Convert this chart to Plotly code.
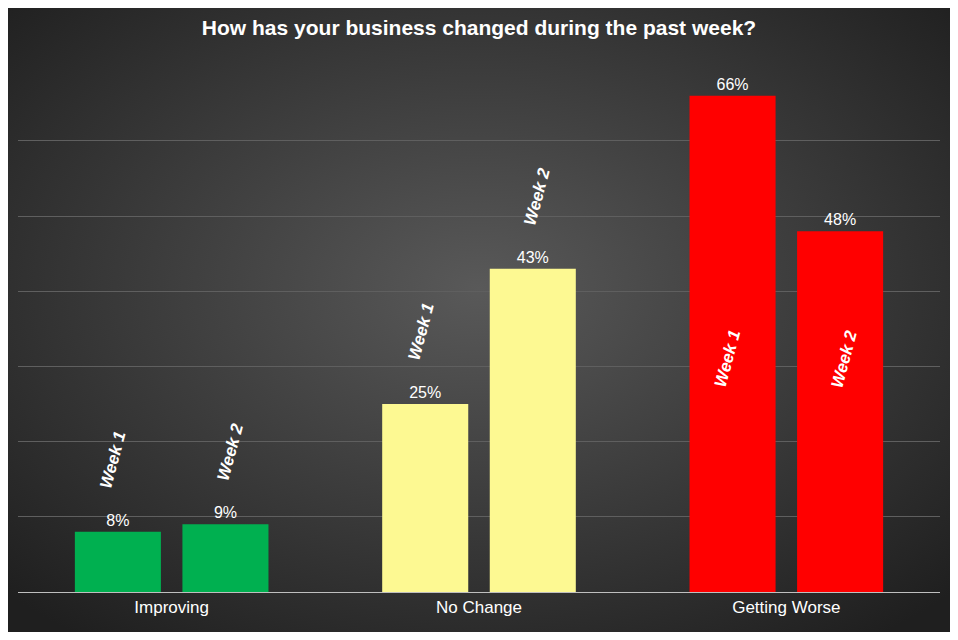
import base64
import plotly.graph_objects as go

categories = ["Improving", "No Change", "Getting Worse"]
week1 = [8, 25, 66]
week2 = [9, 43, 48]
colors = ["#00b050", "#fdf992", "#ff0000"]

W, H = 942, 624
L, R, T, B = 10, 10, 57, 40
pw, ph = W - L - R, H - T - B

svg = ('<svg xmlns="http://www.w3.org/2000/svg" width="958" height="640">'
       '<defs><radialGradient id="g" cx="50%" cy="45%" r="70%">'
       '<stop offset="0%" stop-color="#595959"/><stop offset="100%" stop-color="#1f1f1f"/>'
       '</radialGradient></defs><rect width="958" height="640" fill="url(#g)"/></svg>')
bg = "data:image/svg+xml;base64," + base64.b64encode(svg.encode()).decode()

fig = go.Figure()
for name, vals in [("Week 1", week1), ("Week 2", week2)]:
    fig.add_trace(go.Bar(
        x=categories, y=vals, name=name, marker_color=colors, marker_line_width=0,
        text=[f"{v}%" for v in vals], textposition="outside",
        textfont=dict(color="white", size=16), cliponaxis=False,
    ))

# rotated "Week" labels
label_font = dict(color="white", size=17, family="Liberation Sans")
for i, cat in enumerate(categories):
    for j, (name, vals) in enumerate([("Week 1", week1), ("Week 2", week2)]):
        off = -0.19 if j == 0 else 0.19
        inside = cat == "Getting Worse"
        fig.add_annotation(
            x=i + off, y=31 if inside else vals[i], xref="x", yref="y",
            text=f"<b><i>{name}</i></b>", showarrow=False, textangle=-75,
            yshift=0 if inside else 72, font=label_font,
        )

fig.update_layout(
    width=W, height=H,
    margin=dict(l=L, r=R, t=T, b=B),
    paper_bgcolor="#2b2b2b", plot_bgcolor="rgba(0,0,0,0)",
    images=[dict(source=bg, xref="paper", yref="paper", x=-L / pw, y=1 + T / ph,
                 sizex=W / pw, sizey=H / ph, sizing="stretch", layer="below")],
    title=dict(text="<b>How has your business changed during the past week?</b>",
               x=0.5, y=0.968, xanchor="center", yanchor="middle",
               font=dict(color="white", size=21, family="Liberation Sans")),
    font=dict(family="Liberation Sans", color="white"),
    showlegend=False, barmode="group", bargap=0.3, bargroupgap=0.2,
    xaxis=dict(type="category", range=[-0.5, 2.5], showline=True, linecolor="#bfbfbf",
               tickfont=dict(color="white", size=17), ticks=""),
    yaxis=dict(range=[0, 70.1], tickvals=[10, 20, 30, 40, 50, 60, 70],
               showticklabels=False, gridcolor="#5f5f5f", zeroline=False),
)

fig.write_html("out.html")
